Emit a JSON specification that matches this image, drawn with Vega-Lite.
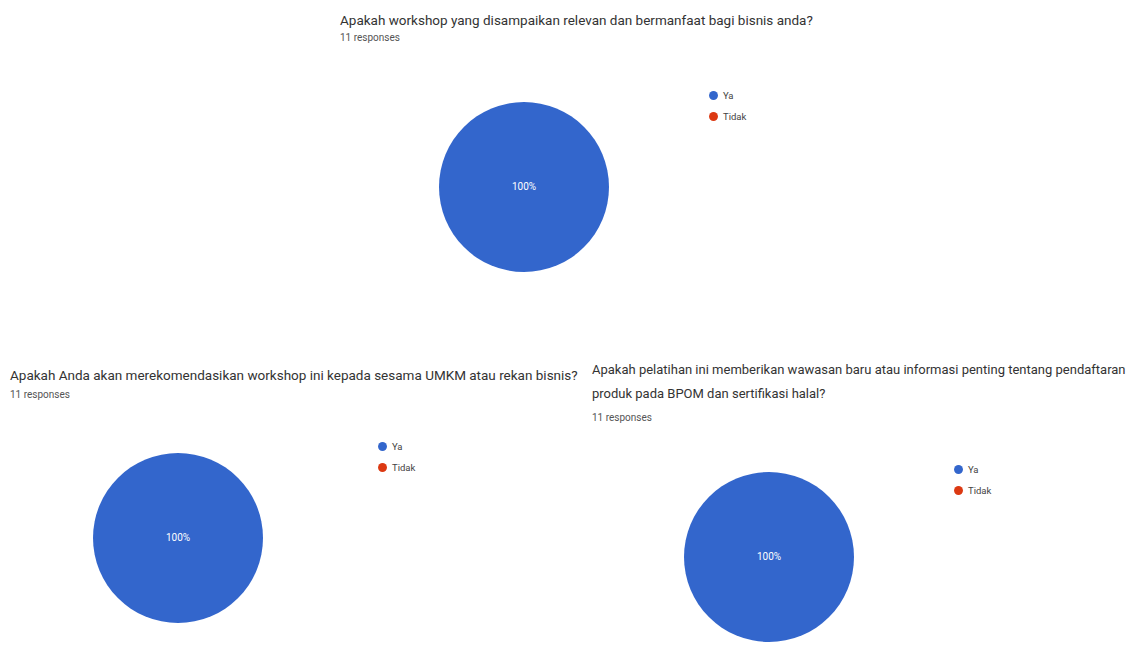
{
  "$schema": "https://vega.github.io/schema/vega-lite/v6.json",
  "padding": {"left": 10, "top": 13, "right": 0, "bottom": 0},
  "background": "white",
  "config": {
    "view": {"stroke": null},
    "font": "Roboto",
    "title": {"anchor": "start", "frame": "group", "fontSize": 13.5, "fontWeight": "normal", "color": "#333333", "subtitleFontSize": 10, "subtitleColor": "#555555", "subtitlePadding": 6},
    "legend": {"orient": "none", "labelFontSize": 9.5, "labelColor": "#444444", "symbolType": "circle", "symbolSize": 80, "rowPadding": 11}
  },
  "data": {"values": [
    {"question": "q1", "answer": "Ya", "count": 11, "share": 1},
    {"question": "q1", "answer": "Tidak", "count": 0, "share": 0},
    {"question": "q2", "answer": "Ya", "count": 11, "share": 1},
    {"question": "q2", "answer": "Tidak", "count": 0, "share": 0},
    {"question": "q3", "answer": "Ya", "count": 11, "share": 1},
    {"question": "q3", "answer": "Tidak", "count": 0, "share": 0}
  ]},
  "spacing": 178,
  "bounds": "flush",
  "resolve": {"scale": {"color": "independent", "theta": "independent"}, "legend": {"color": "independent"}},
  "vconcat": [
    {
      "title": {"text": "Apakah workshop yang disampaikan relevan dan bermanfaat bagi bisnis anda?", "subtitle": "11 responses", "offset": 47, "dx": 330},
      "width": 1028, "height": 194,
      "transform": [{"filter": "datum.question === 'q1'"}],
      "layer": [
        {"mark": {"type": "arc", "radius": 85},
         "encoding": {
           "theta": {"field": "count", "type": "quantitative", "stack": true},
           "color": {"field": "answer", "type": "nominal", "sort": ["Ya", "Tidak"], "scale": {"domain": ["Ya", "Tidak"], "range": ["#3366cc", "#dc3912"]}, "legend": {"title": null, "legendX": 698, "legendY": 0}}
         }},
        {"transform": [{"filter": "datum.count > 0"}],
         "mark": {"type": "text", "color": "white", "fontSize": 10},
         "encoding": {"text": {"field": "share", "type": "quantitative", "format": ".0%"}}}
      ]
    },
    {
      "spacing": 246,
      "bounds": "flush",
      "resolve": {"scale": {"color": "independent", "theta": "independent"}, "legend": {"color": "independent"}},
      "hconcat": [
        {
          "title": {"text": "Apakah Anda akan merekomendasikan workshop ini kepada sesama UMKM atau rekan bisnis?", "subtitle": "11 responses", "offset": 41, "subtitlePadding": 8},
          "width": 336, "height": 152,
          "transform": [{"filter": "datum.question === 'q2'"}],
          "layer": [
            {"mark": {"type": "arc", "radius": 85},
             "encoding": {
               "theta": {"field": "count", "type": "quantitative", "stack": true},
               "color": {"field": "answer", "type": "nominal", "sort": ["Ya", "Tidak"], "scale": {"domain": ["Ya", "Tidak"], "range": ["#3366cc", "#dc3912"]}, "legend": {"title": null, "legendX": 367, "legendY": -21}}
             }},
            {"transform": [{"filter": "datum.count > 0"}],
             "mark": {"type": "text", "color": "white", "fontSize": 10},
             "encoding": {"text": {"field": "share", "type": "quantitative", "format": ".0%"}}}
          ]
        },
        {
          "title": {"text": ["Apakah pelatihan ini memberikan wawasan baru atau informasi penting tentang pendaftaran", "produk pada BPOM dan sertifikasi halal?"], "subtitle": "11 responses", "offset": 39, "fontSize": 13, "lineHeight": 24, "subtitlePadding": 12},
          "width": 354, "height": 190,
          "transform": [{"filter": "datum.question === 'q3'"}],
          "layer": [
            {"mark": {"type": "arc", "radius": 85},
             "encoding": {
               "theta": {"field": "count", "type": "quantitative", "stack": true},
               "color": {"field": "answer", "type": "nominal", "sort": ["Ya", "Tidak"], "scale": {"domain": ["Ya", "Tidak"], "range": ["#3366cc", "#dc3912"]}, "legend": {"title": null, "legendX": 361, "legendY": 2}}
             }},
            {"transform": [{"filter": "datum.count > 0"}],
             "mark": {"type": "text", "color": "white", "fontSize": 10},
             "encoding": {"text": {"field": "share", "type": "quantitative", "format": ".0%"}}}
          ]
        }
      ]
    }
  ]
}
